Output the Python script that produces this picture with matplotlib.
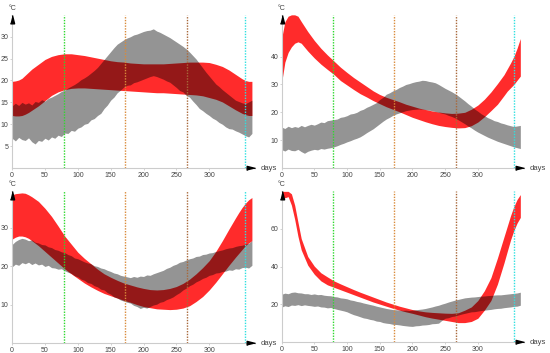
import numpy as np
import matplotlib
matplotlib.use("Agg")
import matplotlib.pyplot as plt

plt.rcParams['font.family'] = ['Liberation Sans', 'DejaVu Sans']

# day grids
gray_days = list(range(0, 365, 5)) + [365]
red_days = [0, 5, 10, 15, 20, 25, 30] + list(range(40, 340, 10)) + [340, 345, 350, 355, 360, 365]

# seasonal markers (equinox / solstice days)
season_days = [79, 172, 266, 355]
season_colors = ['#2ed82e', '#d98a3a', '#a8683a', '#2ee0e0']

# panel 1 (top left)
p1_gray_lo = [6.8, 6.2, 7.0, 6.5, 6.3, 6.9, 6.0, 5.5, 6.3, 6.1, 6.8, 6.4, 7.1, 6.8, 7.5, 7.2, 8.0, 7.9, 8.6, 8.4,
              9.1, 9.4, 10.0, 10.2, 11.0, 11.3, 12.0, 12.5, 13.6, 14.4, 15.5, 16.2, 17.2, 17.8, 18.5, 18.9, 19.0,
              19.5, 19.7, 20.0, 20.3, 20.6, 20.9, 21.1, 20.9, 20.6, 20.3, 19.9, 19.6, 19.0, 18.4, 17.7, 17.4, 16.6,
              16.2, 15.3, 14.5, 13.6, 13.1, 12.5, 12.0, 11.4, 11.0, 10.4, 10.0, 9.4, 9.0, 8.9, 8.5, 8.2, 7.8, 7.4,
              7.1, 7.9]
p1_gray_hi = [14.2, 14.8, 14.3, 15.0, 14.6, 14.9, 14.4, 15.2, 15.0, 15.6, 15.3, 15.9, 16.2, 16.6, 17.0, 17.5, 17.8,
              18.3, 18.7, 19.1, 19.6, 20.2, 20.6, 21.1, 21.7, 22.3, 23.0, 23.9, 24.8, 25.7, 26.6, 27.5, 28.3, 28.8,
              29.3, 29.7, 30.0, 30.4, 30.6, 30.9, 31.2, 31.4, 31.5, 31.8, 31.3, 31.0, 30.6, 30.2, 29.8, 29.3, 28.8,
              28.3, 27.8, 27.2, 26.5, 25.7, 24.9, 23.9, 22.9, 21.9, 21.0, 20.1, 19.2, 18.6, 17.9, 17.3, 16.7, 16.1,
              15.5, 15.2, 14.9, 14.7, 15.1, 15.5]
p1_red_lo = [12.0, 11.9, 11.9, 12.0, 12.3, 12.7, 13.2, 14.2, 15.4, 16.6, 17.4, 17.9, 18.2, 18.3, 18.3, 18.2, 18.1,
             18.0, 17.9, 17.8, 17.7, 17.6, 17.5, 17.4, 17.3, 17.2, 17.2, 17.1, 17.0, 16.9, 16.8, 16.7, 16.5, 16.1,
             15.7, 15.1, 14.2, 13.3, 12.9, 12.5, 12.2, 12.0, 12.0]
p1_red_hi = [19.8, 19.9, 20.1, 20.5, 21.2, 21.9, 22.6, 23.7, 24.8, 25.5, 25.9, 26.1, 26.1, 25.9, 25.7, 25.4, 25.1,
             24.8, 24.5, 24.3, 24.2, 24.0, 23.9, 23.8, 23.8, 23.8, 23.8, 23.9, 24.0, 24.1, 24.2, 24.2, 24.2, 24.1,
             23.7, 23.2, 22.4, 21.4, 20.9, 20.4, 20.0, 19.8, 19.8]

# panel 2 (top right)
p2_gray_lo = [6.6, 6.1, 6.8, 6.3, 6.2, 6.7, 5.9, 5.3, 6.0, 6.4, 6.7, 6.5, 7.0, 6.8, 7.1, 7.3, 7.6, 8.0, 8.5, 8.9,
              9.4, 9.8, 10.3, 10.7, 11.2, 11.9, 12.7, 13.4, 14.1, 15.0, 15.9, 16.8, 17.6, 18.2, 18.9, 19.4, 19.8,
              20.2, 20.6, 20.8, 21.0, 21.1, 21.2, 21.1, 21.0, 20.8, 20.6, 20.3, 20.0, 19.7, 19.4, 18.9, 18.5, 18.0,
              17.3, 16.6, 15.9, 15.1, 14.4, 13.6, 12.9, 12.3, 11.7, 11.1, 10.6, 10.1, 9.6, 9.2, 8.8, 8.4, 8.0, 7.6,
              7.3, 7.0]
p2_gray_hi = [14.7, 14.2, 15.0, 14.5, 14.9, 14.6, 15.3, 14.8, 15.3, 15.7, 15.4, 15.9, 16.5, 16.3, 17.0, 17.2, 17.4,
              17.6, 18.2, 18.4, 18.8, 19.4, 19.6, 20.0, 20.7, 21.1, 21.8, 22.3, 22.9, 23.5, 24.6, 25.4, 26.5, 27.0,
              27.7, 28.2, 28.9, 29.4, 30.0, 30.3, 30.7, 31.0, 31.2, 31.5, 31.4, 31.1, 30.9, 30.6, 30.0, 29.3, 28.6,
              28.0, 27.4, 26.7, 25.9, 25.0, 24.1, 23.1, 22.2, 21.2, 20.4, 19.5, 18.8, 18.1, 17.6, 17.0, 16.7, 16.2,
              15.9, 15.5, 15.2, 14.9, 15.1, 15.3]
p2_red_lo = [30.6, 38.0, 41.5, 43.5, 44.8, 45.3, 44.8, 42.0, 39.5, 37.3, 35.4, 33.6, 31.4, 29.8, 28.2, 26.7, 25.5,
             24.2, 23.1, 22.0, 21.1, 20.2, 19.2, 18.2, 17.4, 16.6, 15.9, 15.3, 14.9, 14.6, 14.4, 14.5, 15.2, 16.5,
             18.4, 20.6, 22.9, 26.0, 27.6, 28.8, 30.0, 31.5, 33.0]
p2_red_hi = [46.5, 52.5, 54.5, 55.0, 55.0, 54.5, 52.6, 49.0, 45.8, 43.0, 40.6, 38.4, 36.2, 34.3, 32.5, 30.9, 29.3,
             27.7, 26.4, 25.4, 24.6, 23.8, 22.9, 22.2, 21.5, 21.0, 20.5, 20.1, 19.8, 19.6, 19.7, 20.0, 21.1, 22.6,
             24.7, 27.3, 30.3, 33.5, 35.6, 37.7, 40.0, 43.0, 46.5]

# panel 3 (bottom left)
p3_gray_lo = [19.8, 20.5, 20.2, 20.9, 20.6, 21.0, 20.4, 20.8, 20.3, 20.5, 19.9, 20.2, 19.6, 19.5, 19.2, 19.3, 18.8,
              18.4, 18.1, 17.5, 17.2, 16.6, 16.3, 15.7, 15.5, 14.9, 14.6, 14.0, 13.8, 13.1, 12.7, 12.0, 11.7, 11.2,
              10.9, 10.6, 10.4, 9.8, 9.5, 9.0, 9.3, 9.1, 9.5, 9.9, 10.1, 10.6, 10.8, 11.3, 11.6, 12.0, 12.6, 13.1,
              13.8, 14.3, 14.9, 15.3, 15.9, 16.3, 16.8, 17.1, 17.6, 17.8, 18.2, 18.3, 18.6, 18.7, 19.0, 18.9, 19.3,
              19.2, 19.6, 19.7, 19.5, 20.2]
p3_gray_hi = [25.6, 26.4, 26.9, 27.2, 27.0, 26.6, 26.8, 26.2, 26.0, 25.6, 25.5, 25.0, 24.8, 24.3, 24.1, 23.7, 23.5,
              23.0, 22.7, 22.1, 21.9, 21.5, 21.1, 20.8, 20.6, 20.1, 19.9, 19.5, 19.3, 18.9, 18.6, 18.2, 18.0, 17.6,
              17.4, 17.2, 17.0, 17.3, 17.1, 17.4, 17.3, 17.7, 17.6, 18.0, 18.3, 18.6, 18.9, 19.4, 19.7, 20.2, 20.5,
              21.0, 21.2, 21.6, 21.9, 22.1, 22.5, 22.6, 23.0, 23.1, 23.4, 23.5, 23.8, 24.0, 24.2, 24.5, 24.7, 24.8,
              25.1, 25.3, 25.4, 25.7, 25.9, 26.6]
p3_red_lo = [27.0, 27.5, 27.8, 27.8, 27.6, 27.2, 26.6, 25.3, 23.8, 22.3, 20.8, 19.3, 18.0, 16.8, 15.6, 14.6, 13.7,
             12.9, 12.3, 11.7, 11.1, 10.6, 10.0, 9.5, 9.2, 8.9, 8.8, 8.7, 8.8, 9.1, 9.7, 10.8, 12.1, 13.8, 15.8,
             18.0, 20.2, 22.3, 23.3, 24.3, 25.3, 26.0, 26.6]
p3_red_hi = [38.5, 38.8, 38.9, 39.0, 38.9, 38.5, 38.0, 36.8, 35.0, 32.9, 30.4, 27.8, 25.7, 23.6, 22.0, 20.6, 19.2,
             18.0, 17.1, 16.3, 15.6, 15.1, 14.6, 14.2, 13.9, 13.8, 13.9, 14.2, 14.7, 15.5, 16.6, 18.0, 19.6, 21.4,
             23.8, 26.6, 29.6, 32.5, 33.9, 35.2, 36.3, 37.2, 37.8]

# panel 4 (bottom right)
p4_gray_lo = [18.5, 19.2, 18.8, 19.6, 19.4, 19.8, 19.3, 19.7, 19.4, 19.2, 18.9, 19.1, 18.6, 18.5, 18.1, 18.3, 17.8,
              17.3, 16.9, 16.5, 16.0, 15.2, 14.5, 14.0, 13.4, 12.8, 12.5, 12.0, 11.7, 11.1, 10.9, 10.3, 10.0, 9.8,
              9.4, 9.3, 9.1, 8.8, 8.6, 8.4, 8.3, 8.6, 8.7, 9.0, 9.1, 9.3, 9.7, 9.8, 10.0, 11.5, 12.6, 12.9, 13.5,
              13.8, 14.3, 14.8, 15.2, 15.6, 16.0, 16.1, 16.4, 16.7, 16.9, 17.1, 17.3, 17.6, 17.8, 17.9, 18.2, 18.4,
              18.6, 18.9, 19.0, 19.5]
p4_gray_hi = [25.3, 25.9, 25.6, 26.3, 26.5, 26.1, 26.0, 25.6, 25.6, 25.2, 25.5, 25.1, 25.2, 24.8, 24.6, 24.5, 24.1,
              23.9, 23.4, 23.2, 22.9, 22.3, 22.0, 21.5, 21.2, 20.7, 20.3, 19.9, 19.5, 19.0, 18.6, 18.2, 17.8, 17.5,
              17.2, 17.1, 16.9, 16.8, 16.9, 16.7, 16.9, 17.1, 17.3, 17.5, 17.8, 18.2, 18.6, 19.1, 19.5, 20.1, 20.6,
              21.2, 21.7, 22.2, 22.6, 23.0, 23.4, 23.6, 23.8, 23.9, 24.1, 24.3, 24.4, 24.6, 24.7, 24.9, 25.0, 25.0,
              25.2, 25.4, 25.6, 25.8, 26.0, 26.4]
p4_red_lo = [77.2, 76.4, 77.0, 72.5, 65.0, 56.0, 48.8, 40.7, 35.9, 32.4, 30.3, 29.0, 27.7, 26.4, 25.1, 23.8, 22.5,
             21.2, 20.1, 19.0, 17.9, 16.9, 16.0, 15.2, 14.3, 13.4, 12.7, 12.1, 11.5, 10.9, 10.3, 10.3, 10.9, 12.6,
             16.9, 22.0, 30.7, 41.9, 48.0, 54.0, 59.0, 63.0, 66.0]
p4_red_hi = [79.8, 79.8, 79.8, 78.5, 72.5, 63.5, 54.8, 45.3, 40.2, 36.7, 34.5, 32.4, 30.8, 29.3, 27.8, 26.4, 25.1,
             23.8, 22.5, 21.2, 20.1, 19.0, 18.1, 17.2, 16.5, 16.0, 15.7, 15.5, 15.3, 15.2, 15.5, 16.9, 18.6, 22.0,
             27.2, 34.1, 44.5, 55.7, 61.3, 66.9, 71.7, 75.5, 78.1]

x_ticks = [0, 50, 100, 150, 200, 250, 300]

panels = [
    # (rect in figure fraction, ylim top, yticks, data)
    ([0.022, 0.524, 0.442, 0.434], 35.0, [5, 10, 15, 20, 25, 30], p1_gray_lo, p1_gray_hi, p1_red_lo, p1_red_hi),
    ([0.512, 0.524, 0.440, 0.434], 55.0, [10, 20, 30, 40], p2_gray_lo, p2_gray_hi, p2_red_lo, p2_red_hi),
    ([0.022, 0.028, 0.442, 0.431], 39.5, [10, 20, 30], p3_gray_lo, p3_gray_hi, p3_red_lo, p3_red_hi),
    ([0.512, 0.031, 0.440, 0.428], 80.0, [20, 40, 60], p4_gray_lo, p4_gray_hi, p4_red_lo, p4_red_hi),
]

fig = plt.figure(figsize=(5.5, 3.53), dpi=100)

up_arrow = [(-1.5, -6), (1.5, -6), (0, 0)]
right_arrow = [(-6, -1.5), (-6, 1.5), (0, 0)]
xmax = 370

for rect, ytop, yticks, g_lo, g_hi, r_lo, r_hi in panels:
    ax = fig.add_axes(rect)
    ax.fill_between(red_days, r_lo, r_hi, color='#ff2b2b', lw=0, zorder=1)
    ax.fill_between(gray_days, g_lo, g_hi, color='black', alpha=0.42, lw=0, zorder=2)
    for d, c in zip(season_days, season_colors):
        ax.axvline(d, color=c, ls=(0, (1, 1)), lw=1.0, zorder=3)

    ax.set_xlim(0, xmax)
    ax.set_ylim(0, ytop)
    ax.set_xticks(x_ticks)
    ax.set_yticks(yticks)
    ax.tick_params(labelsize=5, labelcolor='#444444', color='#cccccc', length=1.5, width=0.6, pad=1)
    for s in ['top', 'right']:
        ax.spines[s].set_visible(False)
    for s in ['left', 'bottom']:
        ax.spines[s].set_color('#cccccc')
        ax.spines[s].set_linewidth(0.8)
    ax.patch.set_alpha(0)

    # axis arrows and labels
    ax.plot([0], [ytop], marker=up_arrow, ms=12, color='black', clip_on=False, zorder=5)
    ax.plot([xmax], [0], marker=right_arrow, ms=12, color='black', clip_on=False, zorder=5)
    ax.annotate('°C', xy=(0, ytop), xytext=(0, 2), textcoords='offset points',
                ha='center', va='bottom', fontsize=5, color='#444444', annotation_clip=False)
    ax.annotate('days', xy=(xmax, 0), xytext=(4, 0), textcoords='offset points',
                ha='left', va='center', fontsize=5.5, color='#444444', annotation_clip=False)

fig.savefig('out.png', dpi=100)
